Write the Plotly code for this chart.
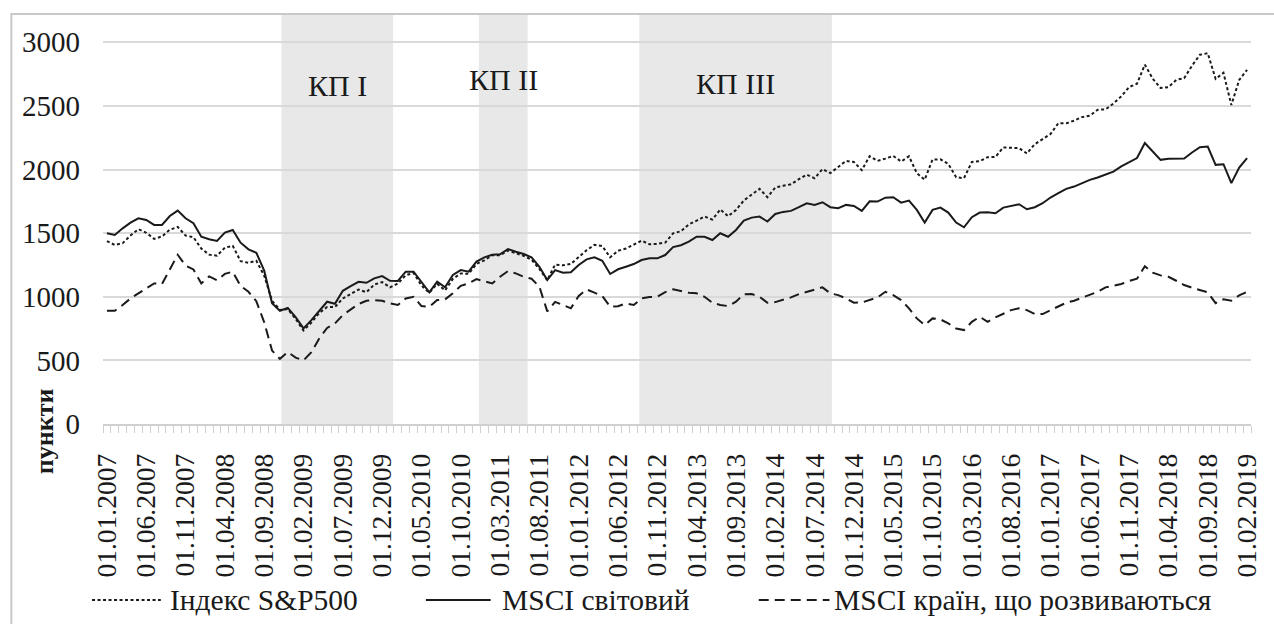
import plotly.graph_objects as go

# ---------------- data ----------------
months = [f"01.{m:02d}.{y}" for y in range(2007, 2020) for m in range(1, 13)][:146]

tick_labels = [
    "01.01.2007", "01.06.2007", "01.11.2007", "01.04.2008", "01.09.2008",
    "01.02.2009", "01.07.2009", "01.12.2009", "01.05.2010", "01.10.2010",
    "01.03.2011", "01.08.2011", "01.01.2012", "01.06.2012", "01.11.2012",
    "01.04.2013", "01.09.2013", "01.02.2014", "01.07.2014", "01.12.2014",
    "01.05.2015", "01.10.2015", "01.03.2016", "01.08.2016", "01.01.2017",
    "01.06.2017", "01.11.2017", "01.04.2018", "01.09.2018", "01.02.2019",
]

sp500 = [
    1438, 1407, 1421, 1482, 1531, 1503, 1455, 1474, 1527, 1549, 1481, 1468,
    1379, 1331, 1323, 1386, 1400, 1280, 1267, 1283, 1166, 969, 896, 903,
    826, 735, 798, 873, 919, 919, 987, 1021, 1057, 1036, 1096, 1115,
    1074, 1104, 1169, 1187, 1089, 1031, 1102, 1049, 1141, 1183, 1181, 1258,
    1286, 1327, 1326, 1364, 1345, 1321, 1292, 1219, 1131, 1253, 1247, 1258,
    1312, 1366, 1408, 1398, 1310, 1362, 1379, 1407, 1441, 1412, 1416, 1426,
    1498, 1515, 1569, 1598, 1631, 1606, 1686, 1633, 1682, 1757, 1806, 1848,
    1783, 1859, 1872, 1884, 1924, 1960, 1931, 2003, 1972, 2018, 2068, 2059,
    1995, 2105, 2068, 2086, 2107, 2063, 2104, 1972, 1920, 2079, 2080, 2044,
    1940, 1932, 2060, 2065, 2097, 2099, 2174, 2171, 2168, 2126, 2199, 2239,
    2279, 2364, 2363, 2384, 2412, 2423, 2470, 2472, 2519, 2575, 2648, 2674,
    2824, 2714, 2641, 2648, 2705, 2718, 2816, 2902, 2914, 2712, 2760, 2507,
    2704, 2784,
]

msci_world = [
    1499, 1486, 1538, 1583, 1617, 1604, 1565, 1565, 1635, 1677, 1617, 1578,
    1472, 1452, 1439, 1504, 1525, 1425, 1373, 1346, 1205, 950, 890, 912,
    840, 752, 816, 890, 961, 945, 1047, 1084, 1118, 1110, 1145, 1163,
    1126, 1124, 1197, 1197, 1118, 1035, 1118, 1074, 1171, 1210, 1197, 1276,
    1310, 1330, 1334, 1375, 1354, 1336, 1310, 1236, 1131, 1210, 1189, 1192,
    1250, 1294, 1310, 1283, 1179, 1216, 1236, 1257, 1289, 1302, 1302, 1328,
    1390, 1405, 1433, 1472, 1472, 1446, 1499, 1472, 1525, 1598, 1622, 1630,
    1591, 1651, 1667, 1675, 1704, 1735, 1722, 1743, 1704, 1696, 1722, 1714,
    1675, 1750, 1748, 1779, 1782, 1740, 1756, 1683, 1583, 1683, 1701, 1662,
    1583, 1546, 1625, 1662, 1664, 1656, 1701, 1714, 1727, 1688, 1704, 1735,
    1780, 1814, 1848, 1866, 1893, 1919, 1937, 1958, 1984, 2024, 2058, 2090,
    2208, 2142, 2076, 2084, 2087, 2087, 2134, 2176, 2181, 2037, 2042, 1893,
    2016, 2090,
]

msci_em = [
    890, 890, 935, 987, 1027, 1066, 1105, 1100, 1215, 1330, 1245, 1215,
    1105, 1160, 1130, 1180, 1197, 1085, 1039, 965, 800, 577, 512, 565,
    522, 500, 565, 672, 755, 790, 856, 900, 943, 969, 974, 969,
    948, 935, 987, 1000, 927, 921, 974, 979, 1027, 1086, 1105, 1139,
    1124, 1105, 1157, 1202, 1184, 1157, 1142, 1079, 885, 960, 935, 909,
    1006, 1058, 1032, 1006, 921, 926, 948, 935, 987, 998, 1000, 1037,
    1058, 1045, 1032, 1027, 1000, 953, 935, 927, 961, 1019, 1021, 1000,
    953, 958, 974, 995, 1021, 1039, 1053, 1074, 1027, 1013, 987, 953,
    955, 974, 995, 1039, 1013, 974, 909, 830, 777, 830, 822, 791,
    751, 738, 803, 843, 803, 838, 864, 895, 909, 895, 864, 864,
    895, 927, 953, 969, 992, 1013, 1039, 1074, 1087, 1100, 1124, 1142,
    1240, 1189, 1168, 1157, 1126, 1092, 1071, 1053, 1035, 950, 980, 969,
    1011, 1039,
]

series_names = ["Індекс S&P500", "MSCI світовий", "MSCI країн, що розвиваються"]

crisis_names = ["КП I", "КП II", "КП III"]
crisis_start = [22.2, 47.3, 67.7]   # in month-index units
crisis_end = [36.4, 53.5, 92.2]

y_ticks = [0, 500, 1000, 1500, 2000, 2500, 3000]

# ---------------- layout helpers ----------------
W, H = 1274, 624
L, R, T, B = 103, 19, 15, 200
PW, PH = W - L - R, H - T - B


def px2x(px):
    return (px - L) / PW


def py2y(py):
    return (H - B - py) / PH


FONT = "Liberation Serif"
INK = "#1a1a1a"
GRID = "#d9d9d9"

x = list(range(len(months)))
tick_pos = [months.index(t) for t in tick_labels]

styles = [
    dict(color=INK, width=2, dash="3px,2.5px"),
    dict(color=INK, width=2, dash="solid"),
    dict(color=INK, width=2, dash="10px,6px"),
]

fig = go.Figure()
for name, vals, st in zip(series_names, [sp500, msci_world, msci_em], styles):
    fig.add_trace(go.Scatter(x=x, y=vals, mode="lines", name=name, line=st,
                             showlegend=False, hoverinfo="x+y+name"))

shapes = []
annotations = []
label_py = [85, 79, 83]
for nm, s, e, lp in zip(crisis_names, crisis_start, crisis_end, label_py):
    shapes.append(dict(type="rect", xref="x", yref="paper", x0=s, x1=e, y0=0, y1=1,
                       fillcolor="#e8e8e8", line=dict(width=0), layer="below"))
    annotations.append(dict(xref="x", yref="paper", x=(s + e) / 2, y=py2y(lp),
                            text=nm, showarrow=False, xanchor="center", yanchor="middle",
                            font=dict(family=FONT, size=30, color=INK)))

# chart-area border: only its top and left edges fall inside the picture
shapes.append(dict(type="path", xref="paper", yref="paper",
                   path=f"M {px2x(11)},{py2y(640)} L {px2x(11)},{py2y(14)} L {px2x(1290)},{py2y(14)}",
                   line=dict(color="#c8c8c8", width=2), layer="above"))

# custom legend
leg_py = 600
leg_lines = [(92, 161), (427, 492), (761, 832)]
leg_text_x = [168, 501, 835]
for (a, b), tx, name, st in zip(leg_lines, leg_text_x, series_names, styles):
    shapes.append(dict(type="line", xref="paper", yref="paper",
                       x0=px2x(a), x1=px2x(b), y0=py2y(leg_py), y1=py2y(leg_py),
                       line=dict(color=st["color"], width=st["width"], dash=st["dash"])))
    annotations.append(dict(xref="paper", yref="paper", x=px2x(tx), y=py2y(leg_py),
                            text=name, showarrow=False, xanchor="left", yanchor="middle",
                            font=dict(family=FONT, size=29.5, color=INK)))

# y-axis title
annotations.append(dict(xref="paper", yref="paper", x=px2x(44), y=py2y(431),
                        text="<b>пункти</b>", showarrow=False, textangle=-90,
                        xanchor="center", yanchor="middle",
                        font=dict(family=FONT, size=26, color=INK)))

y_top = 3000 * PH / (PH - 42.3 + T)

fig.update_layout(
    width=W, height=H, autosize=False,
    margin=dict(l=L, r=R, t=T, b=B, pad=0),
    paper_bgcolor="white", plot_bgcolor="white",
    font=dict(family=FONT, size=28, color=INK),
    shapes=shapes, annotations=annotations,
    showlegend=False,
    xaxis=dict(
        range=[-0.5, len(months) - 0.5],
        tickmode="array", tickvals=tick_pos, ticktext=tick_labels,
        tickangle=-90, ticks="", showgrid=False, zeroline=False,
        showline=True, linecolor="#cfcfcf", linewidth=1.5,
        tickfont=dict(family=FONT, size=27.5, color=INK),
        ticklabelstandoff=17,
        minor=dict(tickmode="linear", tick0=-0.5, dtick=1, ticks="outside",
                   ticklen=7, tickcolor="#cfcfcf", tickwidth=1, showgrid=False),
    ),
    yaxis=dict(
        range=[0, y_top], tickmode="array", tickvals=y_ticks,
        ticktext=[str(v) for v in y_ticks],
        showgrid=True, gridcolor=GRID, gridwidth=1.5, zeroline=False,
        showline=False, ticks="",
        tickfont=dict(family=FONT, size=29, color=INK),
        ticklabelstandoff=22,
    ),
)

fig.write_html("out.html", config={"displayModeBar": False},
               post_script="document.body.style.margin='0';document.body.style.overflow='hidden';")
